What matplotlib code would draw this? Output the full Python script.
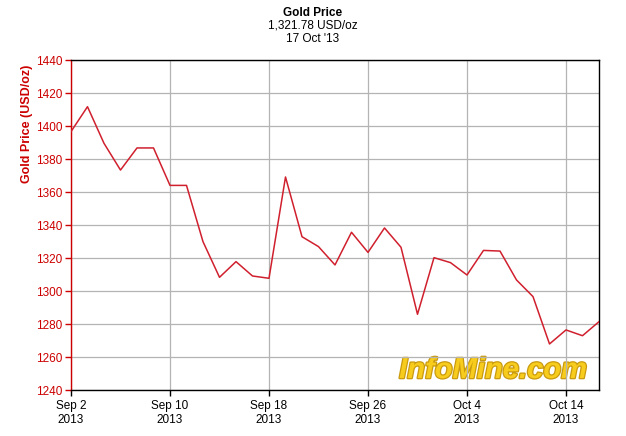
import matplotlib
matplotlib.use('Agg')
import matplotlib.pyplot as plt
import matplotlib.patheffects as pe

plt.rcParams['font.family'] = ['Liberation Sans', 'DejaVu Sans']

# trading days Sep 2 - Oct 16 2013
dates = ['Sep 2', 'Sep 3', 'Sep 4', 'Sep 5', 'Sep 6', 'Sep 9', 'Sep 10',
         'Sep 11', 'Sep 12', 'Sep 13', 'Sep 16', 'Sep 17', 'Sep 18',
         'Sep 19', 'Sep 20', 'Sep 23', 'Sep 24', 'Sep 25', 'Sep 26',
         'Sep 27', 'Sep 30', 'Oct 1', 'Oct 2', 'Oct 3', 'Oct 4',
         'Oct 7', 'Oct 8', 'Oct 9', 'Oct 10', 'Oct 11', 'Oct 14',
         'Oct 15', 'Oct 16']
price = [1396.6, 1411.7, 1389.5, 1373.3, 1386.7, 1386.7, 1364.0,
         1364.0, 1329.9, 1308.3, 1317.8, 1309.1, 1307.7,
         1369.1, 1332.9, 1326.9, 1315.8, 1335.6, 1323.4,
         1338.2, 1326.5, 1285.9, 1320.2, 1317.2, 1309.7,
         1324.6, 1324.2, 1306.7, 1296.6, 1267.9, 1276.4,
         1272.9, 1281.4]
tick_dates = ['Sep 2', 'Sep 10', 'Sep 18', 'Sep 26', 'Oct 4', 'Oct 14']
yticks = [1240, 1260, 1280, 1300, 1320, 1340, 1360, 1380, 1400, 1420, 1440]

red = '#cc0000'
x = list(range(len(price)))

fig = plt.figure(figsize=(6.26, 4.36), dpi=100)
ax = fig.add_axes([71/626, 1-390/436, (599-71)/626, (390-60)/436])

# watermark sits under the grid
ax.text(0.977, 0.018, 'InfoMine.com', transform=ax.transAxes, ha='right',
        va='bottom', fontsize=21, fontweight='bold', fontstyle='italic',
        color='#f7cc1c', zorder=0.5,
        path_effects=[pe.withStroke(linewidth=1.8, foreground='#c99a10')])

ax.plot(x, price, color='#d0202e', lw=1.1, zorder=3)

ax.set_xlim(0, len(price) - 1)
ax.set_ylim(1240, 1440)
ax.set_yticks(yticks)
ax.set_xticks([dates.index(d) for d in tick_dates])
ax.set_xticklabels([d + '\n2013' for d in tick_dates])
ax.grid(True, color='#b4b4b4', lw=0.9, zorder=1)
ax.set_axisbelow(True)

ax.tick_params(axis='y', colors=red, labelsize=8.5, length=4, width=1, pad=2)
ax.tick_params(axis='x', colors='black', labelsize=8.5, length=4, width=1, pad=3)
for lab in ax.get_xticklabels():
    lab.set_linespacing(1.25)
ax.spines['left'].set_color(red)
for s in ['top', 'right', 'bottom']:
    ax.spines[s].set_color('black')
for s in ax.spines.values():
    s.set_linewidth(1)

fig.text(27/626, 1-65/436, 'Gold Price (USD/oz)', rotation=90, ha='center',
         va='top', color=red, fontsize=9, fontweight='bold')

fig.text(0.5, 1-13/436, 'Gold Price', ha='center', va='center',
         fontsize=8.5, fontweight='bold')
fig.text(0.5, 1-26/436, '1,321.78 USD/oz', ha='center', va='center', fontsize=8.5)
fig.text(0.5, 1-39/436, "17 Oct '13", ha='center', va='center', fontsize=8.5)

fig.savefig('out.png', dpi=100)
